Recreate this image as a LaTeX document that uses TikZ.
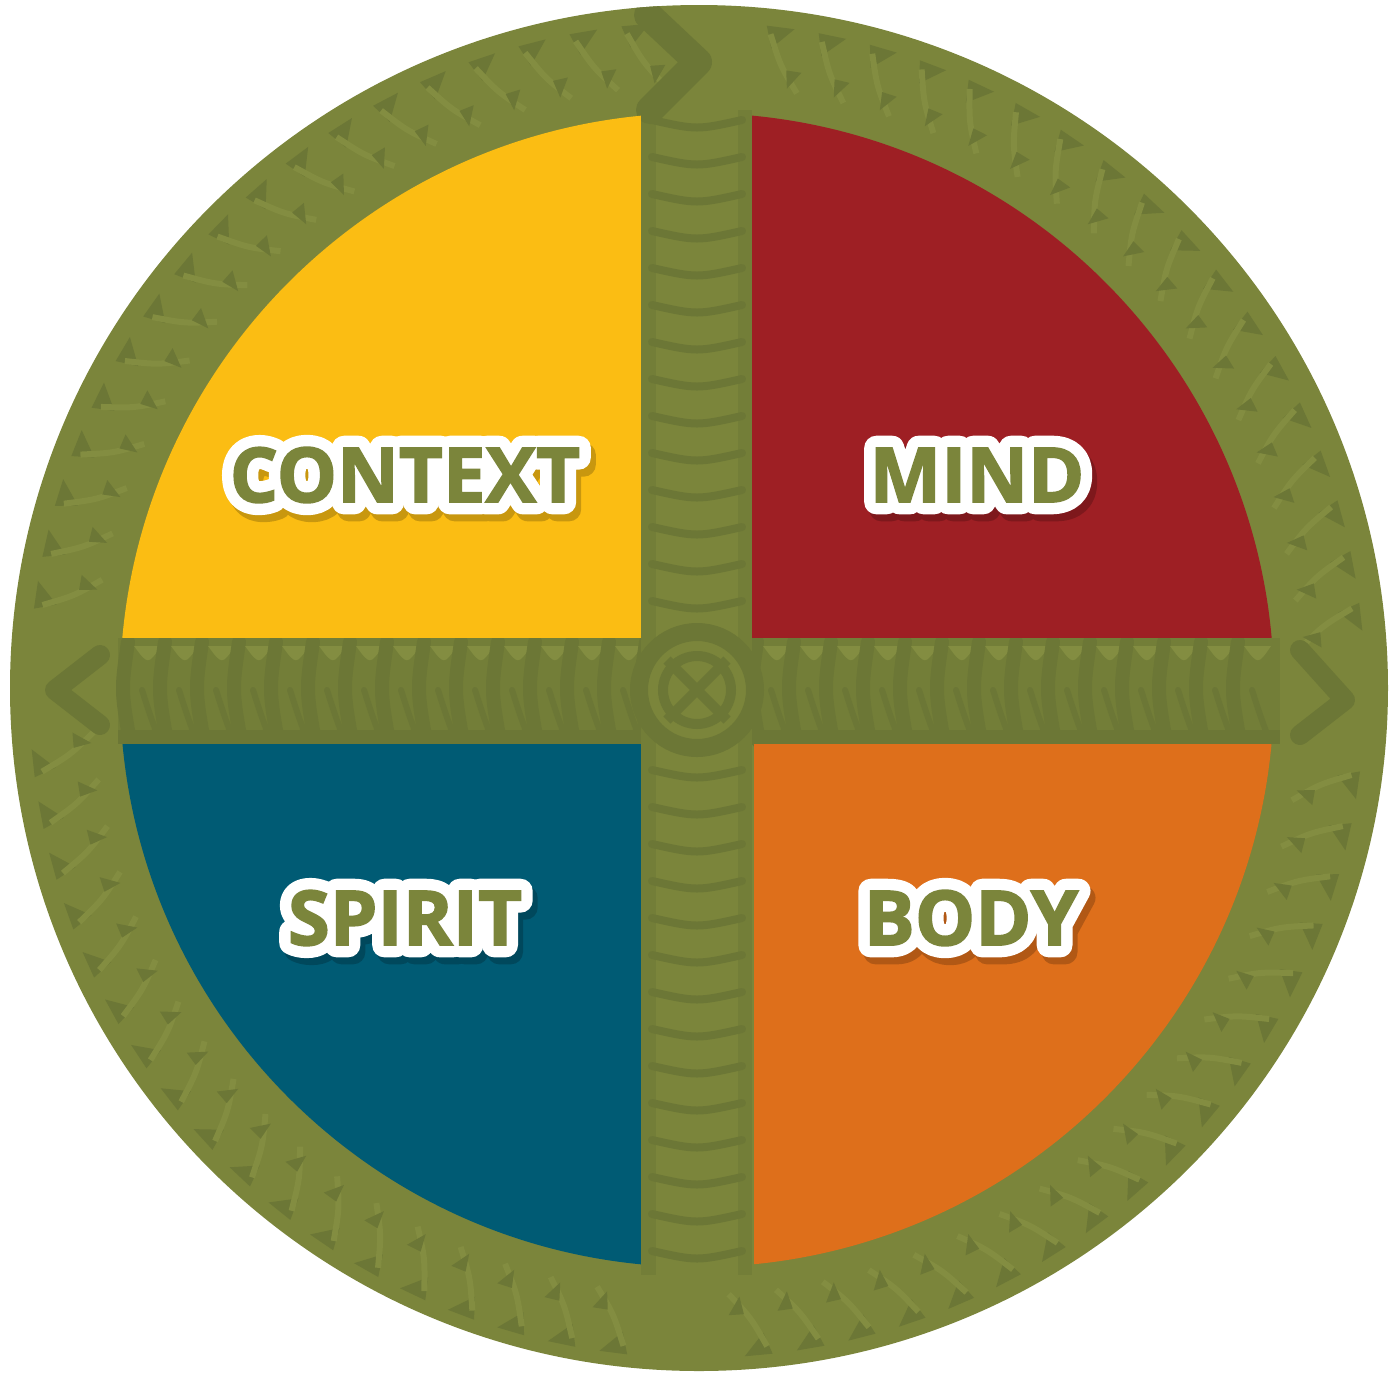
\documentclass[tikz,border=0pt]{standalone}
\usepackage{fontspec}
\newfontfamily\lblfont{Open Sans Bold}[FakeBold=2]
\newfontfamily\outlfont{Open Sans Bold}[FakeBold=32]
\definecolor{olive}{RGB}{123,133,59}
\definecolor{darkolive}{RGB}{108,119,54}
\definecolor{midolive}{RGB}{115,126,56}
\definecolor{lightolive}{RGB}{131,141,65}
\definecolor{qyellow}{RGB}{251,189,19}
\definecolor{qred}{RGB}{158,31,36}
\definecolor{qblue}{RGB}{0,91,116}
\definecolor{qorange}{RGB}{222,111,27}
\tikzset{
  lbl/.style={inner sep=0pt, text=olive, font=\fontsize{38}{40}\lblfont},
  outl/.style={inner sep=0pt, text=white, font=\fontsize{38}{40}\outlfont},
  shd/.style={inner sep=0pt, text=black, font=\fontsize{38}{40}\outlfont},
  darkstroke/.style={draw=darkolive, line cap=round},
}
\newcommand{\rj}{\special{pdf:code 1 j}}
\begin{document}
\begin{tikzpicture}[x=0.5pt,y=-0.5pt]
\useasboundingbox (0,0) rectangle (1394,1373);
\coordinate (C) at (699,688);
\coordinate (Q) at (697,690);
% disc
\fill[olive] (C) ellipse[x radius=689, y radius=683];
\begin{scope}
\clip (C) ellipse[x radius=689, y radius=683];
% ring marks
\begin{scope}[shift={(Q)}]
\foreach \a in {7,11.5,...,84,96,100.5,...,174,187,191.5,...,264,276,280.5,...,354}{
  \fill[darkolive] (\a:668) -- (\a+2.4:668) -- (\a+0.6:646) -- cycle;
  \draw[lightolive, line width=3] (\a+0.4:660) .. controls (\a+1.6:630) .. (\a+3.5:605);
  \fill[darkolive] (\a+2.2:626) -- (\a+3.6:626) -- (\a+2.5:608) -- cycle;
}
\end{scope}
% horizontal bar
\fill[midolive] (118,638) rectangle (1280,744);
\foreach \x in {128,165,...,1270}{
  \draw[darkstroke, line width=7] (\x,642) .. controls (\x-7,690) .. (\x+2,742);
  \draw[darkstroke, line width=3] (\x+14,690) .. controls (\x+22,715) .. (\x+32,742);
  \fill[lightolive] (\x+6,646) .. controls (\x+20,665) .. (\x+33,646) -- cycle;
}
\fill[darkolive] (118,730) rectangle (1280,744);
% vertical bar
\fill[olive] (641,110) rectangle (752,1275);
\fill[midolive] (641,110) rectangle (656,1275);
\fill[midolive] (738,110) rectangle (752,1275);
\foreach \y in {120,157,...,620}{
  \draw[darkstroke, line width=4] (652,\y) .. controls (697,\y+10) .. (742,\y);
}
\foreach \y in {770,807,...,1270}{
  \draw[darkstroke, line width=4] (652,\y) .. controls (697,\y+10) .. (742,\y);
}
% centre motif
\fill[olive] (Q) circle[radius=58];
\draw[darkolive, line width=9] (Q) circle[radius=58];
\draw[darkolive, line width=5] (Q) circle[radius=34];
\draw[darkolive, line width=5] (667,660) -- (727,720) (727,660) -- (667,720);
% end ornaments
\draw[darkolive, line width=14, line cap=round, line join=round] (648,15) -- (698,62) -- (650,110);
\draw[darkolive, line width=10, line cap=round, line join=round] (100,655) -- (55,690) -- (100,725);
\draw[darkolive, line width=10, line cap=round, line join=round] (1300,650) -- (1345,700) -- (1300,735);
\end{scope}
% quadrants
\begin{scope}
\clip (Q) circle[radius=577];
\fill[qyellow] (0,0) rectangle (641,638);
\fill[qred] (752,0) rectangle (1394,638);
\fill[qblue] (0,744) rectangle (641,1373);
\fill[qorange] (754,744) rectangle (1394,1373);
\end{scope}
% labels: shadows
\begin{scope}[transparency group, opacity=0.2]
\node[shd] (s1) at (410,482) {\rj CONTEXT};
\node[shd] (s2) at (982,482) {\rj MIND};
\node[shd] (s3) at (410,925) {\rj SPIRIT};
\node[shd] (s4) at (976,925) {\rj BODY};
\end{scope}
% labels: white outline
\node[outl] (o1) at (405,475) {\rj CONTEXT};
\node[outl] (o2) at (977,475) {\rj MIND};
\node[outl] (o3) at (405,918) {\rj SPIRIT};
\node[outl] (o4) at (971,918) {\rj BODY};
% labels
\node[lbl] (context) at (405,475) {CONTEXT};
\node[lbl] (mind) at (977,475) {MIND};
\node[lbl] (spirit) at (405,918) {SPIRIT};
\node[lbl] (body) at (971,918) {BODY};
\end{tikzpicture}
\end{document}
